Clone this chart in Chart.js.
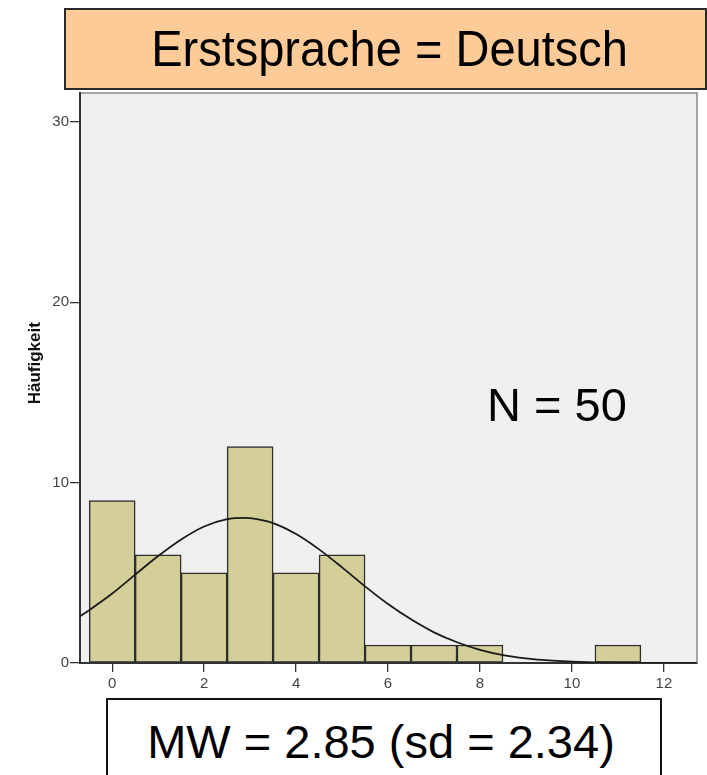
<!DOCTYPE html>
<html>
<head>
<meta charset="utf-8">
<script src="https://cdn.jsdelivr.net/npm/chart.js@4.4.1/dist/chart.umd.min.js"></script>
<style>
  html, body { margin: 0; padding: 0; background: #ffffff; }
  #wrap { position: relative; width: 707px; height: 775px; overflow: hidden; font-family: "Liberation Sans", Arial, sans-serif; }
  #chartBox { position: absolute; left: 0; top: 0; width: 707px; height: 775px; }
  #titleBox { position: absolute; left: 64px; top: 8px; width: 639px; height: 78px; background: #FDCB97; border: 2px solid #2a2a2a; text-align: center; line-height: 78px; font-size: 47px; color: #000; }
  #titleBox span { display: inline-block; transform: scaleY(1.05); margin-left: 8px; }
  #nText { position: absolute; left: 487px; top: 377px; font-size: 47px; color: #000; white-space: nowrap; }
  #mwBox { position: absolute; left: 106px; top: 698px; width: 556px; height: 120px; background: #fff; border: 2px solid #111; font-size: 47px; color: #000; text-align: center; padding-top: 14px; padding-right: 6px; box-sizing: border-box; white-space: nowrap; }
</style>
</head>
<body>
<div id="wrap">
  <div id="chartBox"><canvas id="c" width="707" height="775"></canvas></div>
  <div id="titleBox"><span>Erstsprache = Deutsch</span></div>
  <div id="nText">N = 50</div>
  <div id="mwBox">MW = 2.85 (sd = 2.34)</div>
</div>
<script>
// Histogram bins (centre of each bin) and frequencies
const binCenters = [0, 1, 2, 3, 4, 5, 6, 7, 8, 11];
const frequencies = [9, 6, 5, 12, 5, 6, 1, 1, 1, 1];

// Normal curve
const curveX = [-0.7, -0.5, 0, 0.5, 1, 1.5, 2, 2.5, 2.85, 3, 3.5, 4, 4.5, 5, 5.5, 6, 6.5, 7, 7.5, 8, 8.5, 9, 9.5, 10, 10.5, 11, 11.5, 12, 12.7];
const curveY = [2.6, 2.93, 3.85, 4.9, 5.93, 6.85, 7.57, 7.98, 8.05, 8.03, 7.76, 7.15, 6.3, 5.3, 4.25, 3.27, 2.42, 1.7, 1.15, 0.73, 0.44, 0.26, 0.14, 0.08, 0.04, 0.02, 0.01, 0.0, 0.0];

// Tick labels
const xTicks = [0, 2, 4, 6, 8, 10, 12];
const yTicks = [0, 10, 20, 30];
const yTitle = "Häufigkeit";

const barData = binCenters.map((x, i) => ({ x: x, y: frequencies[i] }));
const lineData = curveX.map((x, i) => ({ x: x, y: curveY[i] }));

const plotBg = {
  id: 'plotBg',
  beforeDraw(chart) {
    const { ctx, chartArea: a } = chart;
    ctx.save();
    ctx.fillStyle = '#F0F0F0';
    ctx.fillRect(a.left, a.top, a.right - a.left, a.bottom - a.top);
    ctx.strokeStyle = '#8a8a8a';
    ctx.lineWidth = 1.5;
    ctx.strokeRect(a.left, a.top, a.right - a.left, a.bottom - a.top);
    ctx.restore();
  },
  afterDraw(chart) {
    const { ctx, chartArea: a } = chart;
    ctx.save();
    ctx.translate(35, a.top + (a.bottom - a.top) * 0.474);
    ctx.rotate(-Math.PI / 2);
    ctx.fillStyle = '#111';
    ctx.font = 'bold 17px "Liberation Sans", Arial, sans-serif';
    ctx.textAlign = 'center';
    ctx.textBaseline = 'middle';
    ctx.fillText(yTitle, 0, 0);
    ctx.restore();
  }
};

new Chart(document.getElementById('c'), {
  type: 'bar',
  data: {
    datasets: [
      {
        type: 'line',
        data: lineData,
        borderColor: '#1a1a1a',
        borderWidth: 1.8,
        pointRadius: 0,
        fill: false,
        cubicInterpolationMode: 'monotone',
        order: 0
      },
      {
        type: 'bar',
        data: barData,
        backgroundColor: '#D4CF98',
        borderColor: '#2e2e2e',
        borderWidth: 1.5,
        borderSkipped: false,
        categoryPercentage: 1.0,
        barPercentage: 1.0,
        grouped: false,
        order: 1
      }
    ]
  },
  options: {
    responsive: false,
    animation: false,
    events: [],
    layout: { padding: { top: 93, right: 10, bottom: 72, left: 0 } },
    plugins: { legend: { display: false }, tooltip: { enabled: false }, title: { display: false } },
    scales: {
      x: {
        type: 'linear',
        min: -0.7,
        max: 12.72,
        offset: false,
        afterFit(s) { s.height = 40; },
        afterBuildTicks(s) { s.ticks = xTicks.map(v => ({ value: v })); },
        ticks: { autoSkip: false, maxRotation: 0, color: '#444', font: { family: 'Liberation Sans', size: 15 }, padding: 3 },
        grid: { offset: false, drawOnChartArea: false, drawTicks: true, tickLength: 9, color: '#333', lineWidth: 1.3 },
        border: { display: true, color: '#333', width: 2 }
      },
      y: {
        type: 'linear',
        min: 0,
        max: 31.6,
        afterFit(s) { s.width = 80; },
        afterBuildTicks(s) { s.ticks = yTicks.map(v => ({ value: v })); },
        ticks: { color: '#444', font: { family: 'Liberation Sans', size: 15 }, padding: 1 },
        grid: { offset: false, drawOnChartArea: false, drawTicks: true, tickLength: 10, color: '#333', lineWidth: 1.3 },
        border: { display: true, color: '#333', width: 2 },
        title: { display: false }
      }
    }
  },
  plugins: [plotBg]
});
</script>
</body>
</html>
